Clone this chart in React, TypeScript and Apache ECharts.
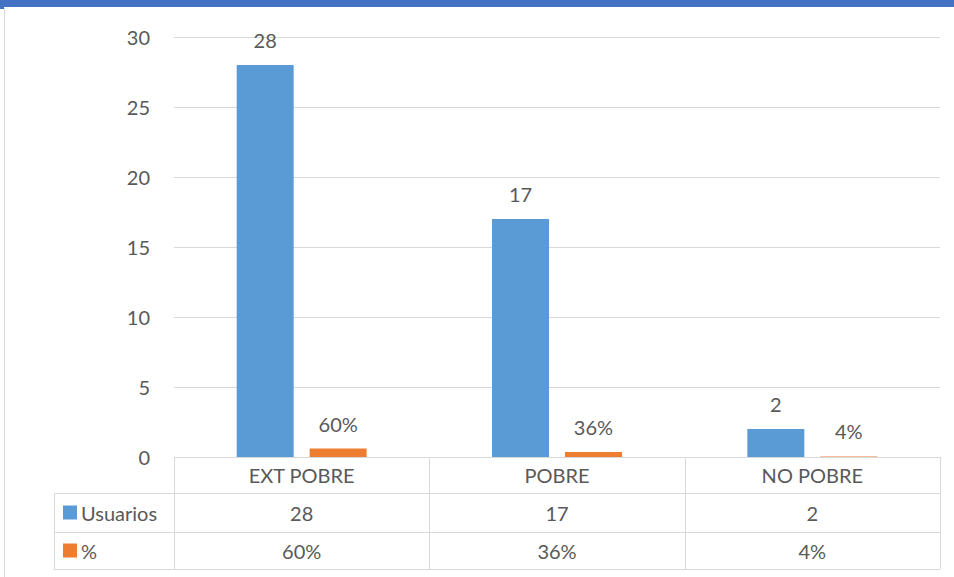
import React, { useEffect, useRef } from "react";
import * as echarts from "echarts";

const categories = ["EXT POBRE", "POBRE", "NO POBRE"];
const usuarios = [28, 17, 2];
const porcentaje = [0.6, 0.36, 0.04];
const seriesNames = ["Usuarios", "%"];
const yTicks = { min: 0, max: 30, interval: 5 };

const BLUE = "#5B9BD5";
const ORANGE = "#ED7D31";
const GRID = "#D9D9D9";
const TEXT = "#595959";
const FONT = "Lato, 'Open Sans', sans-serif";
const FS = 20;

const fmtPct = (v: number) => Math.round(v * 100) + "%";

export default function App() {
  const ref = useRef<HTMLDivElement>(null);
  useEffect(() => {
    document.body.style.margin = "0";
    const chart = echarts.init(ref.current!, null, { renderer: "svg" });
    const W = 954;
    const gridLeft = 174;
    const gridRight = 940;
    const gridTop = 37;
    const gridBottom = 457;
    const catW = (gridRight - gridLeft) / categories.length;
    const tableLeft = 54;
    const rowYs = [457, 493, 532, 569];
    const rowCenters = [475, 512.5, 550.5];

    const graphics: any[] = [];
    graphics.push({ type: "rect", shape: { x: 0, y: 0, width: W, height: 7 }, style: { fill: "#4472C4" } });
    graphics.push({ type: "rect", shape: { x: 0, y: 0, width: 4, height: 9 }, style: { fill: "#4472C4" } });
    graphics.push({ type: "line", shape: { x1: 4.5, y1: 8, x2: 4.5, y2: 577 }, style: { stroke: GRID, lineWidth: 1 } });
    graphics.push({ type: "line", shape: { x1: gridLeft, y1: rowYs[0] + 0.5, x2: gridRight, y2: rowYs[0] + 0.5 }, style: { stroke: GRID, lineWidth: 1 } });
    for (let i = 1; i < rowYs.length; i++) {
      graphics.push({ type: "line", shape: { x1: tableLeft, y1: rowYs[i] + 0.5, x2: gridRight, y2: rowYs[i] + 0.5 }, style: { stroke: GRID, lineWidth: 1 } });
    }
    graphics.push({ type: "line", shape: { x1: tableLeft + 0.5, y1: rowYs[1], x2: tableLeft + 0.5, y2: rowYs[3] }, style: { stroke: GRID, lineWidth: 1 } });
    for (let i = 0; i <= categories.length; i++) {
      const x = Math.round(gridLeft + i * catW) + 0.5;
      graphics.push({ type: "line", shape: { x1: x, y1: rowYs[0], x2: x, y2: rowYs[3] }, style: { stroke: GRID, lineWidth: 1 } });
    }
    const colors = [BLUE, ORANGE];
    seriesNames.forEach((n, i) => {
      const cy = rowCenters[i + 1];
      graphics.push({ type: "rect", shape: { x: 63, y: cy - 7, width: 14, height: 14 }, style: { fill: colors[i] } });
      graphics.push({ type: "text", x: 81, y: cy, style: { text: n, fill: TEXT, font: `${FS}px ${FONT}`, textVerticalAlign: "middle", verticalAlign: "middle" } });
    });
    const rows = [usuarios.map((v) => String(v)), porcentaje.map(fmtPct)];
    rows.forEach((r, ri) => {
      r.forEach((t, ci) => {
        graphics.push({
          type: "text",
          x: gridLeft + (ci + 0.5) * catW,
          y: rowCenters[ri + 1],
          style: { text: t, fill: TEXT, font: `${FS}px ${FONT}`, align: "center", verticalAlign: "middle", textAlign: "center", textVerticalAlign: "middle" },
        });
      });
    });

    chart.setOption({
      animation: false,
      grid: { left: gridLeft, right: W - gridRight, top: gridTop, bottom: 577 - gridBottom, containLabel: false },
      xAxis: {
        type: "category",
        data: categories,
        axisLine: { show: false },
        axisTick: { show: false },
        axisLabel: { color: TEXT, fontSize: FS, fontFamily: FONT, margin: 8 },
      },
      yAxis: {
        type: "value",
        min: yTicks.min,
        max: yTicks.max,
        interval: yTicks.interval,
        axisLine: { show: false },
        axisTick: { show: false },
        axisLabel: { color: TEXT, fontSize: FS, fontFamily: FONT, margin: 24 },
        splitLine: { lineStyle: { color: GRID, width: 1 } },
      },
      series: [
        {
          name: seriesNames[0],
          type: "bar",
          data: usuarios,
          barWidth: 57,
          barGap: "28%",
          itemStyle: { color: BLUE },
          label: { show: true, position: "top", distance: 15, color: TEXT, fontSize: FS, fontFamily: FONT },
        },
        {
          name: seriesNames[1],
          type: "bar",
          data: porcentaje,
          barWidth: 57,
          barGap: "28%",
          itemStyle: { color: ORANGE },
          label: { show: true, position: "top", distance: 15, color: TEXT, fontSize: FS, fontFamily: FONT, formatter: (p: any) => fmtPct(p.value) },
        },
      ],
      graphic: graphics,
    });
    return () => chart.dispose();
  }, []);
  return <div ref={ref} style={{ width: 954, height: 577 }} />;
}
